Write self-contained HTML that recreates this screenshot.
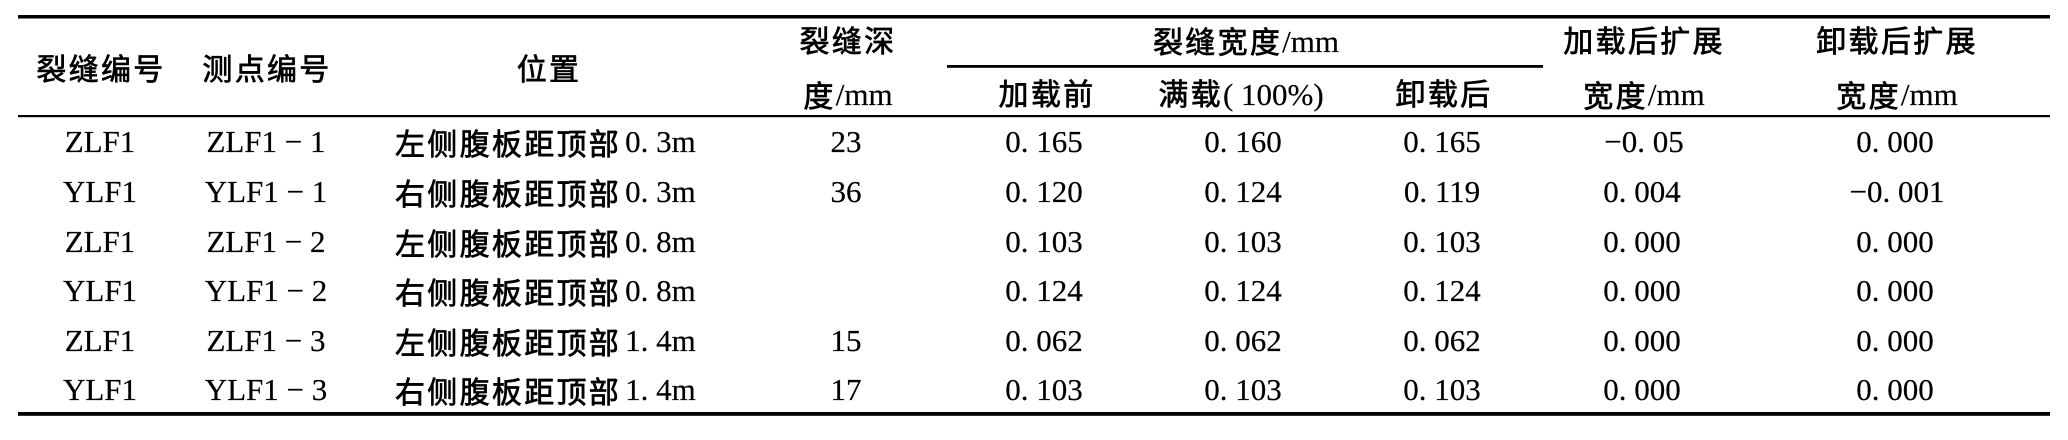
<!DOCTYPE html>
<html>
<head>
<meta charset="utf-8">
<style>
html,body{margin:0;padding:0;background:#fff;}
body{width:2068px;height:440px;overflow:hidden;}
svg{display:block;}
.l{font-family:"Liberation Serif","Noto Serif CJK SC",serif;font-size:31px;fill:#000;stroke:#000;stroke-width:0.2px;}
.c{font-family:"Noto Sans CJK SC","WenQuanYi Zen Hei",sans-serif;font-size:30px;letter-spacing:2.3px;fill:#000;stroke:#000;stroke-width:0.7px;}
</style>
</head>
<body>
<svg width="2068" height="440" viewBox="0 0 2068 440" xmlns="http://www.w3.org/2000/svg">
<rect x="0" y="0" width="2068" height="440" fill="#fff"/>
<!-- rules -->
<rect x="18" y="15" width="2032" height="3.5" fill="#000"/>
<rect x="947" y="65" width="596" height="2.8" fill="#000"/>
<rect x="18" y="115" width="2032" height="2.2" fill="#000"/>
<rect x="18" y="412" width="2032" height="3.8" fill="#000"/>

<!-- header -->
<text class="c" x="101" y="80" text-anchor="middle">裂缝编号</text>
<text class="c" x="267" y="80" text-anchor="middle">测点编号</text>
<text class="c" x="549" y="80" text-anchor="middle">位置</text>

<text class="c" x="848" y="52" text-anchor="middle">裂缝深</text>
<text x="848" y="107" text-anchor="middle"><tspan class="c">度</tspan><tspan class="l" dy="-2">/mm</tspan></text>

<text x="1246" y="53" text-anchor="middle"><tspan class="c">裂缝宽度</tspan><tspan class="l" dy="-1">/mm</tspan></text>

<text class="c" x="1047" y="105" text-anchor="middle">加载前</text>
<text x="1241" y="105" text-anchor="middle"><tspan class="c">满载</tspan><tspan class="l">( 100%)</tspan></text>
<text class="c" x="1444" y="105" text-anchor="middle">卸载后</text>

<text class="c" x="1644" y="52" text-anchor="middle">加载后扩展</text>
<text x="1644" y="107" text-anchor="middle"><tspan class="c">宽度</tspan><tspan class="l" dy="-2">/mm</tspan></text>

<text class="c" x="1897" y="52" text-anchor="middle">卸载后扩展</text>
<text x="1897" y="107" text-anchor="middle"><tspan class="c">宽度</tspan><tspan class="l" dy="-2">/mm</tspan></text>

<g class="l" text-anchor="middle">
<text x="100" y="152">ZLF1</text>
<text x="266" y="152">ZLF1 − 1</text>
<text x="846" y="152">23</text>
<text x="1044" y="152">0. 165</text>
<text x="1243" y="152">0. 160</text>
<text x="1442" y="152">0. 165</text>
<text x="1644" y="152">−0. 05</text>
<text x="1895" y="152">0. 000</text>

<text x="100" y="202">YLF1</text>
<text x="266" y="202">YLF1 − 1</text>
<text x="846" y="202">36</text>
<text x="1044" y="202">0. 120</text>
<text x="1243" y="202">0. 124</text>
<text x="1442" y="202">0. 119</text>
<text x="1642" y="202">0. 004</text>
<text x="1897" y="202">−0. 001</text>

<text x="100" y="252">ZLF1</text>
<text x="266" y="252">ZLF1 − 2</text>
<text x="1044" y="252">0. 103</text>
<text x="1243" y="252">0. 103</text>
<text x="1442" y="252">0. 103</text>
<text x="1642" y="252">0. 000</text>
<text x="1895" y="252">0. 000</text>

<text x="100" y="301">YLF1</text>
<text x="266" y="301">YLF1 − 2</text>
<text x="1044" y="301">0. 124</text>
<text x="1243" y="301">0. 124</text>
<text x="1442" y="301">0. 124</text>
<text x="1642" y="301">0. 000</text>
<text x="1895" y="301">0. 000</text>

<text x="100" y="351">ZLF1</text>
<text x="266" y="351">ZLF1 − 3</text>
<text x="846" y="351">15</text>
<text x="1044" y="351">0. 062</text>
<text x="1243" y="351">0. 062</text>
<text x="1442" y="351">0. 062</text>
<text x="1642" y="351">0. 000</text>
<text x="1895" y="351">0. 000</text>

<text x="100" y="400">YLF1</text>
<text x="266" y="400">YLF1 − 3</text>
<text x="846" y="400">17</text>
<text x="1044" y="400">0. 103</text>
<text x="1243" y="400">0. 103</text>
<text x="1442" y="400">0. 103</text>
<text x="1642" y="400">0. 000</text>
<text x="1895" y="400">0. 000</text>
</g>

<!-- location column -->
<text x="395" y="155"><tspan class="c">左侧腹板距顶部</tspan><tspan class="l" dx="4" dy="-3">0. 3m</tspan></text>
<text x="395" y="205"><tspan class="c">右侧腹板距顶部</tspan><tspan class="l" dx="4" dy="-3">0. 3m</tspan></text>
<text x="395" y="255"><tspan class="c">左侧腹板距顶部</tspan><tspan class="l" dx="4" dy="-3">0. 8m</tspan></text>
<text x="395" y="304"><tspan class="c">右侧腹板距顶部</tspan><tspan class="l" dx="4" dy="-3">0. 8m</tspan></text>
<text x="395" y="354"><tspan class="c">左侧腹板距顶部</tspan><tspan class="l" dx="4" dy="-3">1. 4m</tspan></text>
<text x="395" y="403"><tspan class="c">右侧腹板距顶部</tspan><tspan class="l" dx="4" dy="-3">1. 4m</tspan></text>
</svg>
</body>
</html>
